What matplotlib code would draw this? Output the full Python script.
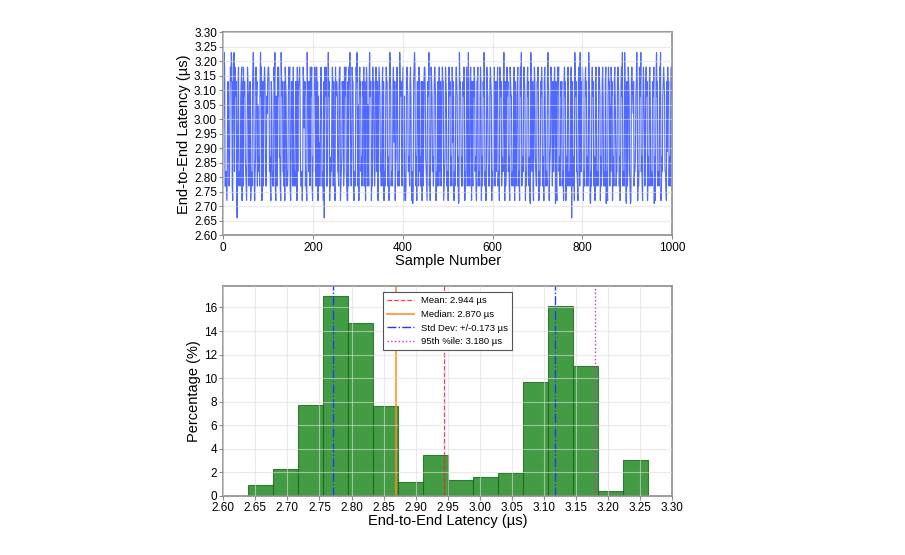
import numpy as np
import matplotlib
matplotlib.use("Agg")
import matplotlib.pyplot as plt

plt.rcParams['font.family'] = ['Liberation Sans', 'DejaVu Sans']

# ---- data ----
# discrete latency levels (µs) used by the time series, indexed by hex digit
levels = [2.66, 2.71, 2.72, 2.77, 2.82, 2.87, 2.89, 2.92,
          2.97, 3.02, 3.05, 3.08, 3.13, 3.18, 3.20, 3.23]

# time series (1000 samples), one hex digit per sample -> index into levels
series_code = [
    "5CFD334324" "CC534BDCFD" "32CBF4DCBC" "205CD3443B" "CD2C3DBCC5",
    "4327DCB34C" "C2343BDFC3" "245DBC3A44" "53CFBD24C3" "BCDC433B9C",
    "DDC4532CB4" "343DCF32B4" "3DBDC5532F" "CBC443C2DC" "B3434BDCD3",
    "24CCB3D534" "3CBC2D4BCC" "DB433424DC" "8BC3432FBC" "44C3DBCD32",
    "54BCDC33D4" "C2B4735CDB" "3342C0DCBD" "343CFBC243" "54BDC3C432",
    "DBCCB443CD" "D2345CBC34" "DBCD4322C3" "DCFB435DCC" "32443BDCF3",
    "4A2CDBC453" "4CBD3C42BD" "C3A53CFBCC" "243DBC534C" "DC4C32BDCB",
    "4435CD3C24" "43BDCC3542" "CFDB3443CD" "B7C245CDB3" "443FCBC534",
    "CD2B4323CD" "CB4453CDB3" "2413CDFD43" "52CCB3D445" "3CB2C34CDD",
    "B5432CCBF3" "427DCB4534" "CDCB2443CB" "3D45C34BDC" "C2345DCB34",
    "42CDBC3453" "D7CB2434CD" "CB3512FCCB" "4353CBDC24" "34DBC3F453",
    "CDB2C43CBD" "C4532CCD34" "43BDC2534C" "BFC3424DCB" "5343CDCB24",
    "43CDB3C54C" "BD3442DCBC" "3454CFB2C3" "4CDBC4532D" "CBB3443CD2",
    "C534BCD344" "2CDBF3454C" "DCB2434CDB" "C3521FCB4C" "32BDC5433C",
    "CDB2434CBD" "C3452CDB34" "43CFCB2457" "DCB3C44CDB" "1C32BDCD45",
    "34CBC3442C" "DBC2453CDB" "3434CD0BC3" "452FCBC443" "2CDB3F54CB",
    "DC2443CDBC" "3534FCB214" "3CDBC4352C" "DB3443CDCB" "2534CDB344",
    "3CD1432BDC" "C3A4DBC245" "3CDB7344CD" "CB3524CDBF" "3443FCB21C",
    "34DCB4312C" "DCB9C3445B" "CFC2434DCB" "F4532CDB83" "4CDBC2453C",
    "DB3443CCBD" "1524CFBC34" "43DCF2354B" "CDCB4432C6" "DBC3543CDB",
]

# histogram: percentage of samples per bin
hist_pct = [0.9, 2.3, 7.7, 17.0, 14.7, 7.6, 1.2, 3.5,
            1.3, 1.6, 1.9, 9.7, 16.1, 11.0, 0.4, 3.0]
hist_min, hist_max = 2.638, 3.262

# summary statistics shown in the legend
stat_mean = 2.944
stat_median = 2.870
stat_std = 0.173
stat_p95 = 3.180

# ---- build ----
series = np.array([levels[int(ch, 16)] for line in series_code for ch in line])
samples = np.arange(len(series))
edges = np.linspace(hist_min, hist_max, len(hist_pct) + 1)
centers = (edges[:-1] + edges[1:]) / 2

fig = plt.figure(figsize=(9.05, 5.55), dpi=100)
ax1 = fig.add_axes([0.2467, 0.576, 0.4961, 0.3658])
ax2 = fig.add_axes([0.2467, 0.1068, 0.4961, 0.3784])

spine_col = '#8c8c8c'
for ax in (ax1, ax2):
    for s in ax.spines.values():
        s.set_color(spine_col)
        s.set_linewidth(1.2)
    ax.tick_params(axis='both', labelsize=8.5, length=3, width=0.8, color=spine_col,
                   pad=1.5)
    ax.grid(True, color='#dddddd', linewidth=0.8, alpha=0.6)
    ax.set_axisbelow(False)

# top: time series
ax1.plot(samples, series, color='#1436ff', linewidth=0.85, alpha=0.75)
ax1.set_xlim(0, 1000)
ax1.set_ylim(2.60, 3.30)
yt = np.arange(2.60, 3.301, 0.05)
ax1.set_yticks(yt)
ax1.set_yticklabels([f"{v:.2f}" for v in yt])
ax1.set_xticks([0, 200, 400, 600, 800, 1000])
ax1.set_xlabel("Sample Number", fontsize=10.5, labelpad=0)
ax1.set_ylabel("End-to-End Latency (µs)", fontsize=10.5, labelpad=2)

# bottom: histogram
ax2.hist(centers, bins=edges, weights=hist_pct, color='forestgreen', alpha=0.85,
         edgecolor='#1e6b1e', linewidth=0.8)
ax2.axvline(stat_mean, color='#ff2020', linestyle='--', linewidth=0.9, alpha=0.85,
            label=f"Mean: {stat_mean:.3f} µs")
ax2.axvline(stat_median, color='#ff8c1a', linestyle='-', linewidth=1.4, alpha=0.8,
            label=f"Median: {stat_median:.3f} µs")
ax2.axvline(stat_mean - stat_std, color='#1a3cff', linestyle='-.', linewidth=1.0,
            label=f"Std Dev: +/-{stat_std:.3f} µs")
ax2.axvline(stat_mean + stat_std, color='#1a3cff', linestyle='-.', linewidth=1.0)
ax2.axvline(stat_p95, color='#cc33cc', linestyle=':', linewidth=1.0,
            label=f"95th %ile: {stat_p95:.3f} µs")
ax2.set_xlim(2.60, 3.30)
ax2.set_ylim(0, 17.85)
xt = np.arange(2.60, 3.301, 0.05)
ax2.set_xticks(xt)
ax2.set_xticklabels([f"{v:.2f}" for v in xt])
ax2.set_yticks([0, 2, 4, 6, 8, 10, 12, 14, 16])
ax2.set_xlabel("End-to-End Latency (µs)", fontsize=10.5, labelpad=0)
ax2.set_ylabel("Percentage (%)", fontsize=10.5, labelpad=2)
leg = ax2.legend(loc='upper center', fontsize=6.8, fancybox=False, framealpha=1,
                 edgecolor='#555555', borderaxespad=0.7, handlelength=2.8)
leg.get_frame().set_linewidth(0.8)

fig.savefig("out.png", dpi=100)
